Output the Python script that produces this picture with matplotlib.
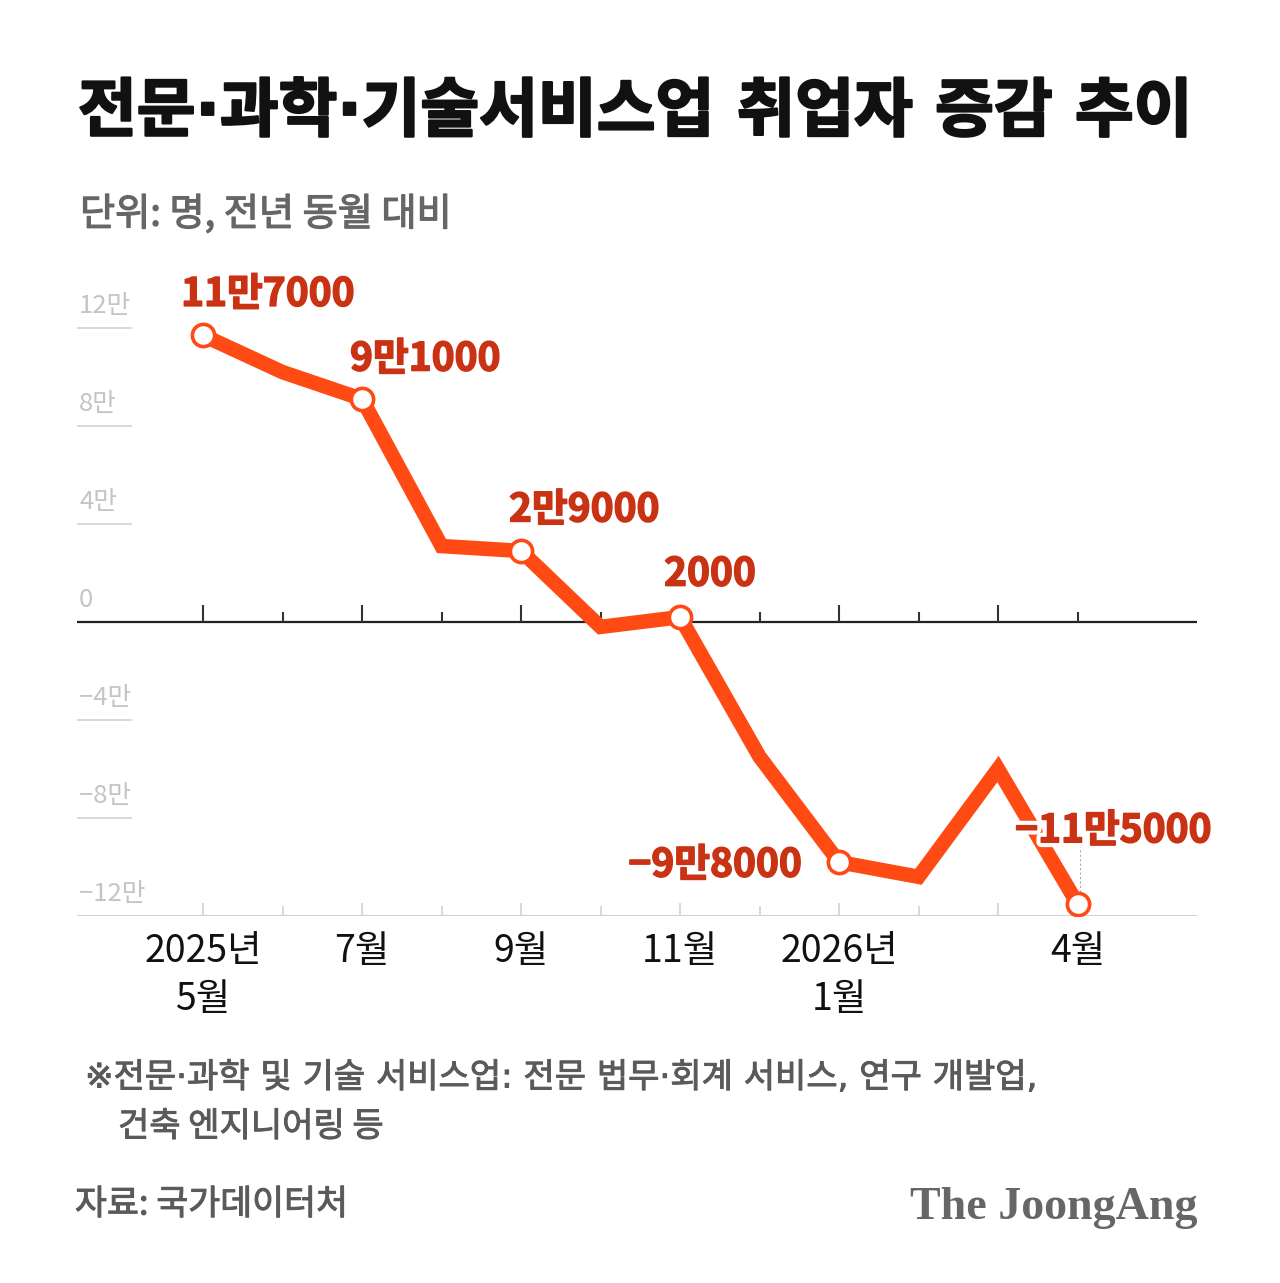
import matplotlib
matplotlib.use("Agg")
import matplotlib.pyplot as plt
import matplotlib.patheffects as pe
from matplotlib.transforms import ScaledTranslation

plt.rcParams['font.family'] = ['Noto Sans CJK KR', 'DejaVu Sans']
plt.rcParams['axes.unicode_minus'] = True

# 2025년 5월 ~ 2026년 4월, 전년 동월 대비 취업자 증감 (명)
months = ["2025-05", "2025-06", "2025-07", "2025-08", "2025-09", "2025-10",
          "2025-11", "2025-12", "2026-01", "2026-02", "2026-03", "2026-04"]
values = [117000, 102000, 91000, 31000, 29000, -2000,
          2000, -55000, -98000, -104000, -60000, -115000]

label_idx = [0, 2, 4, 6, 8, 11]
label_txt = ["11만7000", "9만1000", "2만9000", "2000", "−9만8000", "−11만5000"]

tick_idx = [0, 2, 4, 6, 8, 11]
tick_txt = ["2025년\n5월", "7월", "9월", "11월", "2026년\n1월", "4월"]

y_ticks = [120000, 80000, 40000, 0, -40000, -80000, -120000]
y_tick_txt = ["12만", "8만", "4만", "0", "−4만", "−8만", "−12만"]

LINE = "#ff4a14"
LABEL = "#c93212"
# narrow middle dot from DejaVu, hangul from Noto CJK
MIX = ['DejaVu Sans', 'Noto Sans CJK KR']

fig = plt.figure(figsize=(12.8, 12.83), dpi=100)
fig.patch.set_facecolor("white")

ax = fig.add_axes([77 / 1280, (1283 - 916) / 1283, 1120 / 1280, 637 / 1283])
ax.set_xlim(-1.585, 12.503)
ax.set_ylim(-120000, 140000)
for s in ax.spines.values():
    s.set_visible(False)
ax.set_yticks([])
ax.set_xticks([])

x = list(range(len(months)))

# zero line and bottom line
ax.axhline(0, color="#222222", lw=1.6, zorder=2)
ax.axhline(-120000, color="#d2d2d2", lw=1.5, zorder=1)

# month ticks
for i in x:
    h = 7000 if i % 2 == 0 else 4200
    ax.vlines(i, 0, h, color="#333333", lw=1.5, zorder=2)
    hb = 5300 if i % 2 == 0 else 4000
    ax.vlines(i, -120000, -120000 + hb, color="#d2d2d2", lw=1.2, zorder=1)

# y labels with short grid strokes
yt = ax.get_yaxis_transform()
for v, t in zip(y_ticks, y_tick_txt):
    if v not in (0, -120000):
        ax.plot([0.001, 0.048], [v, v], transform=yt, color="#d6d6d6", lw=1.3, zorder=1)
    ax.text(0.002, v + 3500, t, transform=yt, ha="left", va="bottom",
            fontsize=18.5, color="#c4c4c4")

# line
ax.plot(x, values, color=LINE, lw=10.5, solid_joinstyle="miter", zorder=3)
ax.plot([x[i] for i in label_idx], [values[i] for i in label_idx], "o",
        ms=16, mfc="white", mec=LINE, mew=2.6, zorder=4)

# leader line for last label
ax.vlines(x[11] + 0.03, values[11] + 5000, values[11] + 23000, color="#aaaaaa",
          lw=0.8, linestyles=(0, (2, 2)), zorder=2)

offsets = [(65, 41, "center"), (-12, 40, "left"), (-12, 41, "left"),
           (30, 43, "center"), (-37, -3, "right"), (36, 73, "center")]
stroke = [pe.withStroke(linewidth=7, foreground="white"),
          pe.withStroke(linewidth=1.1, foreground=LABEL)]
for i, t, (dx, dy, ha) in zip(label_idx, label_txt, offsets):
    ax.annotate(t, (x[i], values[i]), xytext=(dx * 0.72, dy * 0.72),
                textcoords="offset points", ha=ha, va="center",
                fontsize=28, fontweight="bold", color=LABEL,
                path_effects=stroke, zorder=5)

# x tick labels
shift = ScaledTranslation(0, -16 / 100, fig.dpi_scale_trans)
for i, t in zip(tick_idx, tick_txt):
    ax.text(x[i], -120000, t, ha="center", va="top", fontsize=27,
            color="#111111", linespacing=1.3, transform=ax.transData + shift)

# titles and notes
fig.text(78 / 1280, 1 - 113 / 1283, "전문·과학·기술서비스업 취업자 증감 추이",
         ha="left", va="center", fontsize=46, fontweight="bold",
         family=MIX, color="#111111",
         path_effects=[pe.withStroke(linewidth=1.6, foreground="#111111")])
fig.text(80 / 1280, 1 - 215 / 1283, "단위: 명, 전년 동월 대비",
         ha="left", va="center", fontsize=27.5, color="#666666",
         path_effects=[pe.withStroke(linewidth=0.9, foreground="#666666")])
note_fx = [pe.withStroke(linewidth=0.7, foreground="#5a5a5a")]
fig.text(85 / 1280, 1 - 1078 / 1283,
         "※전문·과학 및 기술 서비스업: 전문 법무·회계 서비스, 연구 개발업,",
         ha="left", va="center", fontsize=24.5, family=MIX, color="#5a5a5a",
         path_effects=note_fx)
fig.text(118 / 1280, 1 - 1127 / 1283, "건축 엔지니어링 등",
         ha="left", va="center", fontsize=24.5, color="#5a5a5a", path_effects=note_fx)
fig.text(75 / 1280, 1 - 1205 / 1283, "자료: 국가데이터처",
         ha="left", va="center", fontsize=25, color="#5a5a5a", path_effects=note_fx)
fig.text(1197 / 1280, 1 - 1208 / 1283, "The JoongAng",
         ha="right", va="center", fontsize=33, fontweight="bold",
         family="Liberation Serif", color="#666666")

fig.savefig("out.png", dpi=100, facecolor="white")
